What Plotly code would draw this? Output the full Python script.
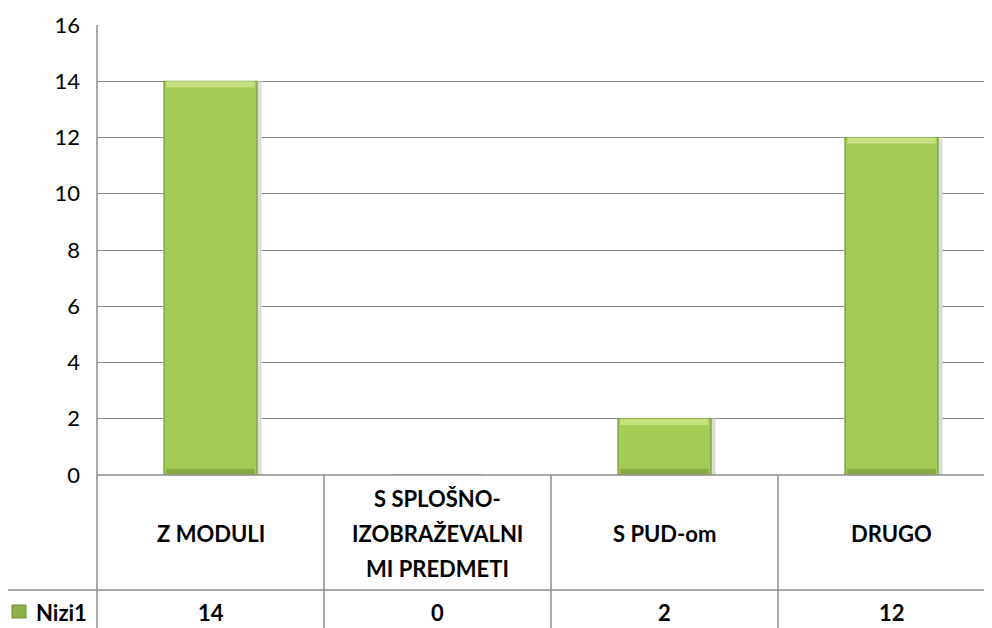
import plotly.graph_objects as go

categories = ["Z MODULI", "S SPLOŠNO-<br>IZOBRAŽEVALNI<br>MI PREDMETI", "S PUD-om", "DRUGO"]
values = [14, 0, 2, 12]
series_name = "Nizi1"
y_ticks = [0, 2, 4, 6, 8, 10, 12, 14, 16]

OFF = 8  # page body margin
W, H = 992 - OFF, 628 - OFF
L, T = 97 - OFF, 25 - OFF
B = H - (475 - OFF)
plot_w = W - L
plot_h = H - T - B
col_w = 227.0
x_lo = -0.5
x_hi = x_lo + plot_w / col_w

FONT = "Lato"
GRID = "#8C8C8C"


def px_x(sx):
    return (sx - OFF - L) / plot_w


def px_y(sy):
    return (H - B - (sy - OFF)) / plot_h


def data_x_to_paper(x):
    return (x - x_lo) / (x_hi - x_lo)


xs = list(range(len(categories)))
band = 0.22
fig = go.Figure()
# soft shadow
fig.add_trace(go.Bar(x=[x + 0.02 for x in xs], y=values, width=0.41,
                     marker=dict(color="#DCDCDC", line=dict(width=0)),
                     showlegend=False, hoverinfo="skip"))
# main bar
fig.add_trace(go.Bar(x=xs, y=values, name=series_name, width=0.41,
                     marker=dict(color="#A4CB55", line=dict(color="#7C9B3A", width=1.2)),
                     showlegend=False, hoverinfo="skip"))
# bevel highlight at top
fig.add_trace(go.Bar(x=xs, y=[min(band, v) for v in values],
                     base=[v - min(band, v) for v in values], width=0.39,
                     marker=dict(color="#C4E07F", line=dict(width=0)),
                     showlegend=False, hoverinfo="skip"))
# bevel shade at bottom
fig.add_trace(go.Bar(x=xs, y=[min(band, v) for v in values], width=0.39,
                     marker=dict(color="#88A943", line=dict(width=0)),
                     showlegend=False, hoverinfo="skip"))

shapes = []
lw = 1.5
shapes.append(dict(type="line", xref="paper", yref="paper", x0=0, x1=0,
                   y0=1, y1=px_y(640), line=dict(color=GRID, width=lw)))
shapes.append(dict(type="line", xref="paper", yref="paper", x0=0, x1=1.01,
                   y0=0, y1=0, line=dict(color=GRID, width=lw)))
shapes.append(dict(type="line", xref="paper", yref="paper", x0=px_x(4), x1=1.01,
                   y0=px_y(590), y1=px_y(590), line=dict(color=GRID, width=lw)))
shapes.append(dict(type="line", xref="paper", yref="paper", x0=px_x(4), x1=px_x(4),
                   y0=px_y(590), y1=px_y(640), line=dict(color=GRID, width=lw)))
for i in range(len(categories) - 1):
    xp = data_x_to_paper(i + 0.5)
    shapes.append(dict(type="line", xref="paper", yref="paper", x0=xp, x1=xp,
                       y0=0, y1=px_y(640), line=dict(color=GRID, width=lw)))
shapes.append(dict(type="rect", xref="paper", yref="paper", x0=px_x(12), x1=px_x(26),
                   y0=px_y(618), y1=px_y(605), fillcolor="#8DB04A",
                   line=dict(color="#6F8F2F", width=1)))

annotations = []
line_h = 35
FS = 22
for i, cat in enumerate(categories):
    lines = cat.split("<br>")
    n = len(lines)
    for k, ln in enumerate(lines):
        yc = 533 + (k - (n - 1) / 2) * line_h
        annotations.append(dict(x=i, xref="x", y=px_y(yc), yref="paper", text="<b>%s</b>" % ln,
                                showarrow=False, xanchor="center", yanchor="middle",
                                font=dict(family=FONT, size=FS, color="black")))
    annotations.append(dict(x=i, xref="x", y=px_y(612), yref="paper", text="<b>%d</b>" % values[i],
                            showarrow=False, xanchor="center", yanchor="middle",
                            font=dict(family=FONT, size=FS, color="black")))
annotations.append(dict(x=px_x(34), xref="paper", y=px_y(612), yref="paper",
                        text="<b>%s</b>" % series_name, showarrow=False,
                        xanchor="left", yanchor="middle",
                        font=dict(family=FONT, size=FS, color="black")))

fig.update_layout(
    width=W, height=H,
    margin=dict(l=L, r=0, t=T, b=B, pad=0),
    paper_bgcolor="white", plot_bgcolor="white",
    font=dict(family=FONT, color="black"),
    barmode="overlay",
    xaxis=dict(range=[x_lo, x_hi], showticklabels=False, showgrid=False,
               zeroline=False, showline=False, ticks=""),
    yaxis=dict(range=[0, 16], tickvals=y_ticks, ticktext=[str(v) for v in y_ticks],
               showgrid=True, gridcolor=GRID, gridwidth=1.2, zeroline=False,
               showline=False, ticks="", ticklabelstandoff=16,
               tickfont=dict(family=FONT, size=22, color="black")),
    shapes=shapes, annotations=annotations,
)

fig.write_html("out.html")
